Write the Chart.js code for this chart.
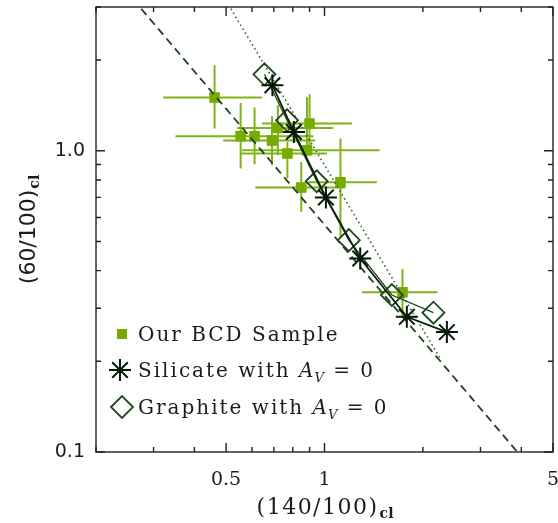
<!DOCTYPE html>
<html lang="en">
<head>
<script src="https://cdn.jsdelivr.net/npm/chart.js@4.4.1/dist/chart.umd.min.js"></script>
<title>BCD colour-colour diagram</title>
<style>
  html, body { margin: 0; padding: 0; background: #fff; }
</style>
</head>
<body>
<canvas id="myChart" width="558" height="523"></canvas>
<script>
// BCD sample: (140/100)cl against (60/100)cl, with error ranges
const bcdX   = [0.461, 0.554, 0.611, 0.691, 0.720, 0.900, 0.770, 0.884, 0.849, 1.119, 1.732];
const bcdY   = [1.502, 1.117, 1.117, 1.081, 1.190, 1.231, 0.979, 1.004, 0.755, 0.786, 0.339];
const bcdXLo = [0.321, 0.350, 0.432, 0.490, 0.541, 0.644, 0.553, 0.560, 0.614, 0.892, 1.301];
const bcdXHi = [0.644, 0.786, 0.924, 0.937, 1.063, 1.213, 1.017, 1.473, 1.157, 1.446, 2.216];
const bcdYLo = [1.185, 0.873, 0.902, 0.895, 0.966, 0.966, 0.811, 0.960, 0.627, 0.518, 0.281];
const bcdYHi = [1.921, 1.440, 1.391, 1.301, 1.416, 1.539, 1.070, 1.504, 0.918, 1.098, 0.405];

// model tracks
const silX = [0.693, 0.806, 1.010, 1.286, 1.786, 2.368];
const silY = [1.649, 1.154, 0.700, 0.439, 0.281, 0.250];
const graX = [0.655, 0.768, 0.947, 1.187, 1.607, 2.154];
const graY = [1.794, 1.262, 0.792, 0.505, 0.332, 0.290];

// reference lines
const dashX = [0.275, 3.906];
const dashY = [2.96, 0.0995];
const dotX = [0.517, 2.275];
const dotY = [2.96, 0.202];

// ticks
const xTickVals = [0.2, 0.3, 0.4, 0.5, 0.6, 0.7, 0.8, 0.9, 1, 2, 3, 4, 5];
const xTickText = ['', '', '', '0.5', '', '', '', '', '1', '', '', '', '5'];
const yTickVals = [0.1, 0.2, 0.3, 0.4, 0.5, 0.6, 0.7, 0.8, 0.9, 1, 2, 3];
const yTickText = ['0.1', '', '', '', '', '', '', '', '', '1.0', '', ''];

const green = '#78ab00';
const ink = '#1c1c1c';
const pts = (xs, ys) => xs.map((v, i) => ({x: v, y: ys[i]}));

function spaced(ctx, s, x, y, font, sp) {
    ctx.font = font;
    ctx.letterSpacing = sp + 'px';
    ctx.fillText(s, x, y);
    return ctx.measureText(s).width;
}

const errorBars = {
    id: 'errorBars',
    beforeDatasetsDraw(chart) {
        const {ctx, chartArea: a, scales: {x, y}} = chart;
        ctx.save();
        ctx.beginPath();
        ctx.rect(a.left, a.top, a.right - a.left, a.bottom - a.top);
        ctx.clip();
        ctx.strokeStyle = '#80b21a';
        ctx.lineWidth = 2;
        ctx.beginPath();
        for (let i = 0; i < bcdX.length; i++) {
            const px = x.getPixelForValue(bcdX[i]);
            const py = y.getPixelForValue(bcdY[i]);
            ctx.moveTo(x.getPixelForValue(bcdXLo[i]), py);
            ctx.lineTo(x.getPixelForValue(bcdXHi[i]), py);
            ctx.moveTo(px, y.getPixelForValue(bcdYLo[i]));
            ctx.lineTo(px, y.getPixelForValue(bcdYHi[i]));
        }
        ctx.stroke();
        ctx.restore();
    }
};

const frame = {
    id: 'frame',
    afterDraw(chart) {
        const {ctx, chartArea: a, scales: {x, y}} = chart;
        ctx.save();
        ctx.strokeStyle = '#222';
        ctx.lineWidth = 1.4;
        ctx.strokeRect(a.left, a.top, a.right - a.left, a.bottom - a.top);
        ctx.beginPath();
        xTickVals.forEach((v, i) => {
            const px = x.getPixelForValue(v);
            const len = xTickText[i] ? 9 : 5;
            ctx.moveTo(px, a.bottom); ctx.lineTo(px, a.bottom - len);
            ctx.moveTo(px, a.top); ctx.lineTo(px, a.top + len);
        });
        yTickVals.forEach((v, i) => {
            const py = y.getPixelForValue(v);
            const len = yTickText[i] ? 9 : 5;
            ctx.moveTo(a.left, py); ctx.lineTo(a.left + len, py);
            ctx.moveTo(a.right, py); ctx.lineTo(a.right - len, py);
        });
        ctx.stroke();

        // axis titles
        ctx.fillStyle = ink;
        ctx.textBaseline = 'alphabetic';
        ctx.textAlign = 'left';
        ctx.font = '22px "DejaVu Serif"';
        ctx.letterSpacing = '1.5px';
        const wMain = ctx.measureText('(140/100)').width;
        ctx.font = 'bold 14px "DejaVu Serif"';
        ctx.letterSpacing = '0px';
        const wSub = ctx.measureText('cl').width;
        let tx = (a.left + a.right) / 2 - (wMain + wSub) / 2;
        spaced(ctx, '(140/100)', tx, 514, '22px "DejaVu Serif"', 1.5);
        spaced(ctx, 'cl', tx + wMain + 1, 518, 'bold 14px "DejaVu Serif"', 0);

        ctx.save();
        ctx.translate(35, 230);
        ctx.rotate(-Math.PI / 2);
        ctx.font = '22px "DejaVu Sans"';
        ctx.letterSpacing = '0px';
        const yMain = ctx.measureText('(60/100)').width;
        ctx.font = 'bold 14px "DejaVu Serif"';
        const ySub = ctx.measureText('cl').width;
        tx = -(yMain + ySub) / 2;
        spaced(ctx, '(60/100)', tx, 0, '22px "DejaVu Sans"', 0);
        spaced(ctx, 'cl', tx + yMain + 1, 4, 'bold 14px "DejaVu Serif"', 0);
        ctx.restore();

        // legend
        const lx = a.left + 26;
        const rows = [a.bottom - 118, a.bottom - 82, a.bottom - 45];
        ctx.fillStyle = green;
        ctx.fillRect(lx - 5, rows[0] - 5, 10, 10);
        ctx.fillStyle = 'rgba(0,0,0,0)';
        ctx.strokeStyle = '#061806';
        ctx.lineWidth = 2;
        Chart.helpers.drawPoint(ctx, {pointStyle: 'star', radius: 11, borderWidth: 2}, lx - 2, rows[1]);
        ctx.strokeStyle = '#1d4a1d';
        ctx.lineWidth = 1.8;
        Chart.helpers.drawPoint(ctx, {pointStyle: 'rectRot', radius: 11, borderWidth: 1.8}, lx, rows[2]);

        ctx.fillStyle = ink;
        const f = '20px "DejaVu Serif"';
        const fi = 'italic 20px "DejaVu Serif"';
        const fs = 'italic 13px "DejaVu Serif"';
        const tx0 = a.left + 42;
        spaced(ctx, 'Our BCD Sample', tx0, rows[0] + 7, f, 2);
        ['Silicate', 'Graphite'].forEach((name, k) => {
            const by = rows[k + 1] + 7;
            let cx = tx0;
            cx += spaced(ctx, name + ' with ', cx, by, f, 2);
            cx += spaced(ctx, 'A', cx, by, fi, 2);
            cx += spaced(ctx, 'V', cx - 1, by + 5, fs, 0);
            spaced(ctx, ' = 0', cx, by, f, 2);
        });
        ctx.restore();
    }
};

const chart = new Chart('myChart', {
    type: 'scatter',
    data: {
        datasets: [
            {
                data: pts(bcdX, bcdY),
                pointStyle: 'rect',
                pointRadius: 7.5,
                pointBorderWidth: 0,
                backgroundColor: green,
                borderColor: green,
                order: 10
            },
            {
                data: pts(dashX, dashY),
                showLine: true,
                pointRadius: 0,
                borderColor: '#1e441e',
                borderWidth: 1.8,
                borderDash: [8, 5],
                order: 5
            },
            {
                data: pts(dotX, dotY),
                showLine: true,
                pointRadius: 0,
                borderColor: '#2f6e2f',
                borderWidth: 1.6,
                borderDash: [1.6, 3],
                order: 5
            },
            {
                data: pts(graX, graY),
                showLine: true,
                borderColor: '#1d4a1d',
                borderWidth: 1.3,
                pointStyle: 'rectRot',
                pointRadius: 11,
                pointBorderWidth: 1.8,
                pointBackgroundColor: 'rgba(0,0,0,0)',
                pointBorderColor: '#1d4a1d',
                order: 2
            },
            {
                data: pts(silX, silY),
                showLine: true,
                borderColor: '#0b1f0b',
                borderWidth: 1.8,
                pointStyle: 'star',
                pointRadius: 11,
                pointBorderWidth: 2,
                pointBorderColor: '#061806',
                order: 1
            }
        ]
    },
    options: {
        responsive: false,
        animation: false,
        devicePixelRatio: 1,
        layout: {autoPadding: false, padding: {top: 7, right: 5, left: 0, bottom: 0}},
        plugins: {legend: {display: false}, tooltip: {enabled: false}},
        scales: {
            x: {
                type: 'logarithmic',
                min: 0.2,
                max: 5,
                grid: {display: false, drawTicks: false},
                border: {display: false},
                afterBuildTicks: (s) => { s.ticks = xTickVals.map(v => ({value: v})); },
                afterFit: (s) => { s.height = 71; s.paddingLeft = 0; s.paddingRight = 0; },
                ticks: {
                    autoSkip: false,
                    maxRotation: 0,
                    padding: 17,
                    color: ink,
                    font: {family: 'DejaVu Serif', size: 19},
                    callback: (v, i) => xTickText[i]
                }
            },
            y: {
                type: 'logarithmic',
                min: 0.1,
                max: 3,
                grid: {display: false, drawTicks: false},
                border: {display: false},
                afterBuildTicks: (s) => { s.ticks = yTickVals.map(v => ({value: v})); },
                afterFit: (s) => { s.width = 96; s.paddingTop = 0; s.paddingBottom = 0; },
                ticks: {
                    autoSkip: false,
                    padding: 11,
                    color: ink,
                    font: {family: 'DejaVu Sans', size: 19},
                    callback: (v, i) => yTickText[i]
                }
            }
        }
    },
    plugins: [errorBars, frame]
});
</script>
</body>
</html>
